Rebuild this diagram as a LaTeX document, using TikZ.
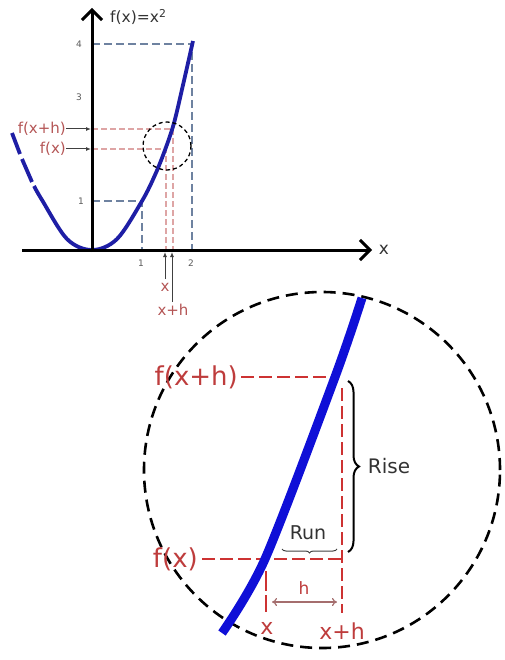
\documentclass[tikz,border=0pt]{standalone}
\usepackage{fontspec}
\setmainfont{DejaVu Sans}
\usetikzlibrary{arrows.meta,decorations.pathreplacing}
\definecolor{labred}{RGB}{190,60,60}
\definecolor{toplab}{RGB}{180,85,85}
\definecolor{dashred}{RGB}{205,50,50}
\definecolor{pinkd}{RGB}{222,165,165}
\definecolor{grayblue}{RGB}{110,130,160}
\definecolor{parab}{RGB}{30,30,165}
\definecolor{bigblue}{RGB}{15,15,215}
\definecolor{tickgray}{RGB}{90,90,90}
\definecolor{harrowc}{RGB}{165,110,110}
\tikzset{
  axis/.style={line width=3pt,-{Straight Barb[length=10pt,width=20pt,line width=3pt]}},
  gdash/.style={grayblue,line width=1.4pt,dash pattern=on 8pt off 4pt},
  pdash/.style={pinkd,line width=1.3pt,dash pattern=on 6pt off 3pt},
  para/.style={parab,line width=3.8pt},
  ticklab/.style={tickgray,font=\fontsize{9}{10}\selectfont,inner sep=0pt},
  toplabel/.style={toplab,font=\fontsize{15}{16}\selectfont,inner sep=0pt},
  smallarrow/.style={line width=1pt,black!75,-{Latex[length=5pt,width=4pt]}},
  rdash/.style={dashred,line width=2.6pt,dash pattern=on 13pt off 5pt},
  biglab/.style={labred,font=\fontsize{26}{28}\selectfont,inner sep=0pt},
  midlab/.style={labred,font=\fontsize{22}{24}\selectfont,inner sep=0pt},
  darklab/.style={black!80,font=\fontsize{20}{22}\selectfont,inner sep=0pt},
  blueline/.style={bigblue,line width=9pt},
  harrow/.style={harrowc,line width=1.2pt,{To[length=5pt,width=8pt]}-{To[length=5pt,width=8pt]}},
}
\begin{document}
\begin{tikzpicture}[x=1pt,y=-1pt]
\useasboundingbox (0,0) rectangle (504,660);
% ---------- top graph ----------
\coordinate (O) at (92,250);
\coordinate (xL) at (22,250);
\coordinate (xR) at (372,250);
\coordinate (yB) at (92,252);
\coordinate (yT) at (92,8);
% grey-blue guides
\coordinate (a4) at (92,44);
\coordinate (p4) at (192,44);
\coordinate (b2) at (192,250);
\coordinate (a1) at (92,201);
\coordinate (p1) at (142,201);
\coordinate (b1) at (142,250);
\draw[gdash] (a4) -- (p4) -- (b2);
\draw[gdash] (a1) -- (p1) -- (b1);
% pink guides
\coordinate (hy1) at (92,129);
\coordinate (hp1) at (173,129);
\coordinate (hb1) at (173,250);
\coordinate (hy2) at (92,149);
\coordinate (hp2) at (166,149);
\coordinate (hb2) at (166,250);
\draw[pdash] (hy1) -- (hp1) -- (hb1);
\draw[pdash] (hy2) -- (hp2) -- (hb2);
% parabola
\draw[para] plot[smooth,tension=0.55] coordinates {(34,186) (42,200) (67,239) (92,250) (117,239) (142,201) (155,175) (165,150) (174,123) (183,85) (193,41)};
\coordinate (d1a) at (12,133);
\coordinate (d1b) at (20,154);
\coordinate (d2a) at (22,159);
\coordinate (d2b) at (32,182);
\draw[para] (d1a) -- (d1b);
\draw[para] (d2a) -- (d2b);
% axes
\draw[axis] (xL) -- (xR);
\draw[axis] (yB) -- (yT);
\node[font=\fontsize{15.5}{17}\selectfont,black!80,anchor=west,inner sep=0pt] (ftitle) at (110,17) {f(x)=x\textsuperscript{2}};
\node[font=\fontsize{17}{18}\selectfont,black!80,inner sep=0pt] (xlab) at (384,250) {x};
% ticks
\node[ticklab] (t4) at (79,44) {4};
\node[ticklab] (t3) at (79,97) {3};
\node[ticklab] (t1) at (81,201) {1};
\node[ticklab] (tx1) at (141,263) {1};
\node[ticklab] (tx2) at (191,263) {2};
% small circle
\node[draw,circle,line width=1.3pt,dash pattern=on 4pt off 3pt,minimum size=48pt,inner sep=0pt] (zc) at (167,146) {};
% labels with arrows
\node[toplabel,anchor=east] (lfxh) at (66,129) {f(x+h)};
\node[toplabel,anchor=east] (lfx) at (66,149) {f(x)};
\coordinate (afxh) at (91,129);
\coordinate (afx) at (91,149);
\draw[smallarrow] (lfxh.east) -- (afxh);
\draw[smallarrow] (lfx.east) -- (afx);
\node[toplabel] (lx) at (165,287) {x};
\node[toplabel] (lxh) at (173,310) {x+h};
\coordinate (ax) at (165,252);
\coordinate (axh) at (172,252);
\coordinate (sx) at (165,279);
\coordinate (sxh) at (172,302);
\draw[smallarrow] (sx) -- (ax);
\draw[smallarrow] (sxh) -- (axh);
% ---------- zoomed circle ----------
\node[draw,circle,line width=2.6pt,dash pattern=on 12pt off 7pt,minimum size=356pt,inner sep=0pt] (zbig) at (322,470) {};
\node[biglab,anchor=east] (Lfxh) at (238,377) {f(x+h)};
\node[biglab,anchor=east] (Lfx) at (198,559) {f(x)};
\node[midlab] (Lx) at (267,628) {x};
\node[midlab] (Lxh) at (342,631) {x+h};
\coordinate (Ph) at (334,377);
\coordinate (Qa) at (342,388);
\coordinate (Qb) at (342,613);
\coordinate (Fa) at (202,559);
\coordinate (Fb) at (342,559);
\coordinate (Xa) at (266,571);
\coordinate (Xb) at (266,612);
\draw[rdash] (Lfxh.east) ++(3,0) -- (Ph);
\draw[rdash] (Fa) -- (Fb);
\draw[rdash] (Qa) -- (Qb);
\draw[rdash,dash pattern=on 20pt off 4pt] (Xa) -- (Xb);
\draw[blueline] plot[smooth] coordinates {(222,633) (265,559) (335,377) (362,298)};
% h arrow
\coordinate (ha) at (272,602);
\coordinate (hb) at (337,602);
\draw[harrow] (ha) -- (hb);
\node[labred,font=\fontsize{17}{18}\selectfont,inner sep=0pt] (hlab) at (304,588) {h};
% Rise brace
\coordinate (ra) at (348,381);
\coordinate (rb) at (348,552);
\draw[line width=2pt,black,decorate,decoration={brace,amplitude=11pt}] (ra) -- (rb);
\node[darklab] (rise) at (389,466) {Rise};
% Run brace
\coordinate (ua) at (337,549);
\coordinate (ub) at (282,549);
\draw[line width=1pt,black!75,decorate,decoration={brace,amplitude=4pt}] (ua) -- (ub);
\node[darklab,font=\fontsize{19}{20}\selectfont] (run) at (308,533) {Run};
\end{tikzpicture}
\end{document}
